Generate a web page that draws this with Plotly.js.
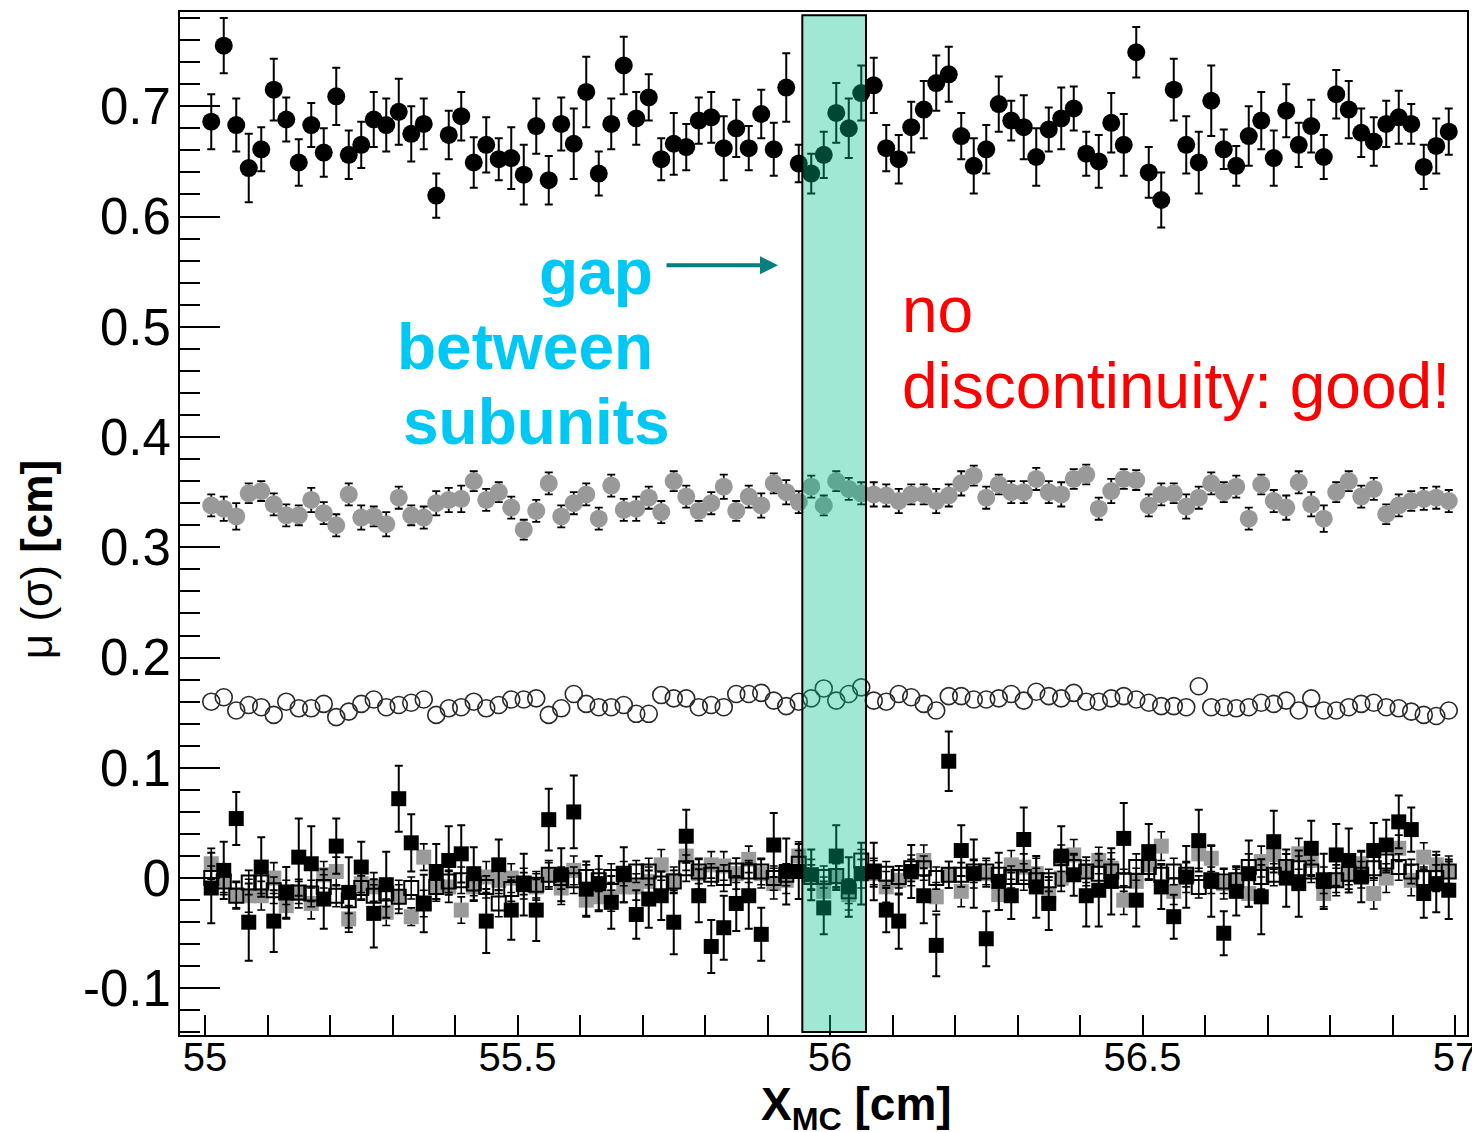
<!DOCTYPE html>
<html>
<head>
<meta charset="utf-8">
<script src="https://cdn.plot.ly/plotly-3.0.1.min.js"></script>
<style>
html,body{margin:0;padding:0;background:#fff;}
#chart{width:1472px;height:1132px;}
</style>
</head>
<body>
<div id="chart"></div>
<script>
// bin centres, X_MC [cm]
const xMC = [
55.01,55.03,55.05,55.07,55.09,55.11,55.13,55.15,55.17,55.19,
55.21,55.23,55.25,55.27,55.29,55.31,55.33,55.35,55.37,55.39,
55.41,55.43,55.45,55.47,55.49,55.51,55.53,55.55,55.57,55.59,
55.61,55.63,55.65,55.67,55.69,55.71,55.73,55.75,55.77,55.79,
55.81,55.83,55.85,55.87,55.89,55.91,55.93,55.95,55.97,55.99,
56.01,56.03,56.05,56.07,56.09,56.11,56.13,56.15,56.17,56.19,
56.21,56.23,56.25,56.27,56.29,56.31,56.33,56.35,56.37,56.39,
56.41,56.43,56.45,56.47,56.49,56.51,56.53,56.55,56.57,56.59,
56.61,56.63,56.65,56.67,56.69,56.71,56.73,56.75,56.77,56.79,
56.81,56.83,56.85,56.87,56.89,56.91,56.93,56.95,56.97,56.99];

// black filled circles
const blackCircles = [
0.686,0.755,0.683,0.644,0.661,0.715,0.688,0.649,0.683,0.658,
0.709,0.656,0.665,0.688,0.683,0.695,0.675,0.684,0.619,0.674,
0.691,0.649,0.665,0.652,0.653,0.638,0.682,0.633,0.684,0.666,
0.713,0.639,0.684,0.737,0.689,0.708,0.652,0.666,0.663,0.687,
0.690,0.662,0.680,0.662,0.693,0.661,0.717,0.648,0.639,0.656,
0.694,0.680,0.712,0.719,0.662,0.652,0.681,0.697,0.721,0.729,
0.673,0.646,0.661,0.702,0.687,0.681,0.654,0.679,0.689,0.698,
0.657,0.650,0.685,0.665,0.749,0.640,0.615,0.715,0.665,0.649,
0.705,0.661,0.646,0.673,0.687,0.653,0.696,0.665,0.682,0.654,
0.711,0.697,0.676,0.668,0.684,0.690,0.684,0.645,0.664,0.677];
const blackCirclesErr = [
0.025,0.025,0.024,0.031,0.020,0.028,0.020,0.021,0.020,0.022,
0.026,0.022,0.021,0.025,0.024,0.030,0.025,0.023,0.020,0.022,
0.022,0.023,0.025,0.019,0.028,0.027,0.025,0.022,0.024,0.032,
0.032,0.020,0.023,0.026,0.024,0.021,0.019,0.028,0.021,0.021,
0.023,0.029,0.026,0.020,0.022,0.024,0.031,0.017,0.018,0.021,
0.027,0.027,0.025,0.025,0.021,0.022,0.023,0.026,0.025,0.025,
0.021,0.025,0.022,0.025,0.018,0.029,0.026,0.020,0.028,0.020,
0.020,0.024,0.027,0.028,0.023,0.023,0.025,0.028,0.026,0.028,
0.032,0.018,0.018,0.027,0.026,0.025,0.024,0.020,0.024,0.020,
0.022,0.026,0.022,0.022,0.021,0.024,0.018,0.020,0.025,0.021];

// grey filled circles
const grayCircles = [
0.338,0.335,0.328,0.349,0.351,0.339,0.329,0.329,0.343,0.331,
0.320,0.348,0.327,0.328,0.321,0.345,0.329,0.327,0.340,0.343,
0.344,0.360,0.343,0.350,0.336,0.316,0.333,0.358,0.328,0.340,
0.348,0.326,0.356,0.334,0.335,0.345,0.332,0.360,0.346,0.333,
0.340,0.355,0.333,0.346,0.338,0.358,0.350,0.341,0.355,0.338,
0.360,0.353,0.349,0.348,0.347,0.342,0.348,0.348,0.342,0.347,
0.358,0.365,0.345,0.357,0.350,0.350,0.362,0.350,0.348,0.362,
0.366,0.335,0.351,0.362,0.361,0.338,0.348,0.349,0.337,0.345,
0.358,0.350,0.355,0.326,0.357,0.342,0.336,0.359,0.339,0.326,
0.350,0.360,0.346,0.353,0.330,0.338,0.342,0.344,0.345,0.342];
const grayCirclesErr = [
0.010,0.011,0.012,0.009,0.009,0.010,0.010,0.009,0.011,0.010,
0.010,0.010,0.011,0.009,0.011,0.010,0.009,0.010,0.011,0.011,
0.012,0.009,0.010,0.009,0.010,0.009,0.010,0.010,0.010,0.010,
0.010,0.010,0.010,0.010,0.011,0.010,0.010,0.009,0.010,0.009,
0.010,0.011,0.009,0.010,0.011,0.009,0.011,0.010,0.010,0.009,
0.009,0.010,0.010,0.011,0.010,0.011,0.009,0.009,0.011,0.010,
0.011,0.009,0.010,0.009,0.010,0.010,0.010,0.010,0.011,0.009,
0.009,0.010,0.011,0.009,0.009,0.010,0.010,0.009,0.011,0.010,
0.010,0.009,0.010,0.010,0.009,0.010,0.011,0.010,0.011,0.012,
0.009,0.009,0.010,0.010,0.009,0.010,0.009,0.010,0.010,0.010];

// open circles
const openCircles = [
0.160,0.164,0.152,0.157,0.155,0.148,0.160,0.154,0.154,0.158,
0.146,0.151,0.158,0.162,0.155,0.157,0.159,0.162,0.148,0.154,
0.155,0.160,0.154,0.157,0.162,0.162,0.163,0.148,0.154,0.167,
0.158,0.155,0.155,0.157,0.149,0.149,0.166,0.163,0.163,0.155,
0.157,0.155,0.167,0.167,0.168,0.161,0.156,0.160,0.163,0.172,
0.161,0.167,0.173,0.161,0.160,0.167,0.164,0.158,0.152,0.165,
0.165,0.162,0.162,0.163,0.167,0.161,0.169,0.165,0.163,0.168,
0.160,0.160,0.163,0.165,0.162,0.159,0.156,0.156,0.155,0.174,
0.155,0.155,0.154,0.155,0.159,0.158,0.161,0.152,0.163,0.152,
0.152,0.155,0.158,0.159,0.155,0.154,0.151,0.148,0.147,0.152];

// black filled squares
const blackSquares = [
-0.009,0.007,0.054,-0.040,0.010,-0.039,-0.013,0.019,0.013,-0.019,
0.029,-0.013,0.010,-0.032,-0.006,0.072,0.032,-0.023,0.006,0.016,
0.022,0.004,-0.039,0.012,-0.029,-0.006,-0.029,0.053,0.003,0.060,
-0.010,-0.005,-0.022,0.003,-0.033,-0.019,-0.016,-0.040,0.038,-0.016,
-0.062,-0.045,-0.023,-0.016,-0.051,0.030,0.006,0.006,0.003,-0.027,
0.020,-0.008,0.004,0.006,-0.029,-0.039,0.006,-0.016,-0.061,0.106,
0.025,0.004,-0.055,-0.003,-0.016,0.035,-0.008,-0.023,0.020,0.003,
-0.016,-0.011,-0.003,0.036,-0.020,0.024,-0.008,-0.035,0.001,0.034,
-0.003,-0.050,-0.012,0.004,-0.017,0.033,0.000,-0.005,0.027,-0.003,
0.021,0.016,0.001,0.025,0.030,0.051,0.044,-0.014,-0.005,-0.011];
const blackSquaresErr = [
0.032,0.026,0.024,0.035,0.027,0.028,0.023,0.035,0.034,0.027,
0.025,0.032,0.023,0.031,0.030,0.030,0.026,0.026,0.025,0.031,
0.026,0.024,0.029,0.023,0.027,0.028,0.028,0.028,0.024,0.033,
0.025,0.025,0.024,0.025,0.022,0.026,0.022,0.029,0.024,0.024,
0.024,0.029,0.025,0.030,0.024,0.029,0.030,0.025,0.023,0.024,
0.028,0.027,0.028,0.026,0.020,0.025,0.024,0.025,0.028,0.027,
0.023,0.031,0.025,0.026,0.021,0.029,0.028,0.024,0.027,0.019,
0.028,0.033,0.030,0.032,0.024,0.025,0.020,0.020,0.028,0.028,
0.032,0.020,0.022,0.030,0.034,0.028,0.026,0.030,0.025,0.025,
0.028,0.029,0.023,0.025,0.023,0.024,0.020,0.022,0.026,0.026];

// grey filled squares
const graySquares = [
0.013,-0.002,-0.015,-0.016,-0.016,0.000,-0.025,-0.014,-0.023,0.003,
0.006,-0.037,-0.005,-0.008,-0.031,-0.017,-0.035,0.019,-0.008,-0.008,
-0.029,-0.008,0.001,-0.002,0.000,-0.005,-0.008,0.003,-0.009,0.007,
-0.020,-0.017,-0.017,-0.008,-0.008,-0.003,0.012,-0.002,0.020,0.004,
0.012,0.011,0.004,0.017,0.004,-0.005,-0.002,0.020,0.003,-0.012,
0.001,-0.015,0.004,0.004,-0.008,-0.002,0.005,0.016,-0.017,0.003,
-0.012,0.004,0.004,-0.015,0.012,0.010,0.004,-0.015,0.000,0.021,
0.006,0.016,0.009,-0.020,-0.003,0.012,0.029,-0.012,0.001,0.022,
0.018,-0.005,-0.002,-0.014,0.015,0.021,0.010,0.022,0.016,-0.014,
-0.002,0.003,0.013,-0.014,0.000,0.027,-0.002,0.019,0.012,0.006];
const graySquaresErr = [
0.014,0.013,0.012,0.015,0.013,0.014,0.012,0.013,0.014,0.012,
0.013,0.012,0.014,0.013,0.012,0.015,0.008,0.012,0.013,0.014,
0.012,0.013,0.014,0.012,0.013,0.014,0.012,0.013,0.015,0.013,
0.014,0.012,0.013,0.014,0.012,0.013,0.014,0.012,0.013,0.014,
0.012,0.013,0.014,0.012,0.013,0.014,0.012,0.013,0.014,0.013,
0.012,0.014,0.013,0.012,0.014,0.013,0.012,0.014,0.013,0.012,
0.014,0.013,0.012,0.014,0.013,0.012,0.014,0.013,0.012,0.014,
0.013,0.012,0.014,0.013,0.012,0.014,0.013,0.012,0.014,0.013,
0.012,0.014,0.013,0.012,0.014,0.013,0.012,0.014,0.013,0.012,
0.014,0.013,0.012,0.014,0.013,0.012,0.014,0.013,0.012,0.014];

// open squares
const openSquares = [
0.000,-0.003,-0.016,-0.004,-0.004,-0.011,-0.013,-0.013,-0.014,-0.008,
-0.016,-0.020,-0.009,-0.016,-0.014,-0.017,-0.009,-0.023,-0.008,-0.003,
-0.002,-0.005,-0.008,-0.023,-0.010,-0.005,-0.006,0.003,0.000,-0.002,
0.001,-0.002,0.001,0.004,0.006,0.006,-0.005,-0.003,0.009,0.006,
0.003,0.000,0.007,0.006,0.006,0.000,0.003,0.013,0.001,0.001,
0.002,-0.012,0.016,0.006,0.004,0.001,0.009,0.009,0.000,0.003,
0.003,0.006,0.006,0.003,0.001,0.001,-0.002,-0.002,0.018,0.010,
0.006,0.004,0.006,-0.002,0.010,0.010,0.003,0.006,0.003,-0.008,
-0.002,-0.003,-0.002,0.010,0.001,0.003,0.010,0.009,0.006,-0.002,
-0.002,0.004,0.003,0.009,0.015,0.010,0.006,0.000,0.000,0.006];
const openSquaresErr = [
0.011,0.010,0.012,0.011,0.010,0.012,0.011,0.010,0.012,0.011,
0.010,0.012,0.011,0.010,0.012,0.011,0.010,0.012,0.011,0.010,
0.012,0.011,0.010,0.012,0.011,0.010,0.012,0.011,0.010,0.012,
0.011,0.010,0.012,0.011,0.010,0.012,0.011,0.010,0.012,0.011,
0.010,0.012,0.011,0.010,0.012,0.011,0.010,0.012,0.011,0.010,
0.012,0.011,0.010,0.012,0.011,0.010,0.012,0.011,0.010,0.012,
0.011,0.010,0.012,0.011,0.010,0.012,0.011,0.010,0.012,0.011,
0.010,0.012,0.011,0.010,0.012,0.011,0.010,0.012,0.011,0.010,
0.012,0.011,0.010,0.012,0.011,0.010,0.012,0.011,0.010,0.012,
0.011,0.010,0.012,0.011,0.010,0.012,0.011,0.010,0.012,0.011];

// tick labels
const yTickValues = [-0.1,0,0.1,0.2,0.3,0.4,0.5,0.6,0.7];
const yTickLabels = ["-0.1","0","0.1","0.2","0.3","0.4","0.5","0.6","0.7"];
const xTickValues = [55,55.5,56,56.5,57];
const xTickLabels = ["55","55.5","56","56.5","57"];

// text
const gapLines = ["gap","between","subunits"];
const noteLines = ["no","discontinuity: good!"];
const yTitle = "μ (σ) <b>[cm]</b>";
const xTitle = "<b>X<sub>MC</sub> [cm]</b>";

const FONT = "Liberation Sans, Arial, Helvetica, sans-serif";

function errs(arr, thick){
  return {type:'data', array:arr, visible:true, color:'#000', thickness:thick, width:4};
}

const traces = [
  {x:xMC, y:graySquares, type:'scatter', mode:'markers', name:'gs',
   marker:{symbol:'square', size:15, color:'#9a9a9a'}, error_y:errs(graySquaresErr,1.6)},
  {x:xMC, y:openSquares, type:'scatter', mode:'markers', name:'os',
   marker:{symbol:'square-open', size:14, color:'#000', line:{width:2,color:'#000'}}, error_y:errs(openSquaresErr,1.6)},
  {x:xMC, y:blackSquares, type:'scatter', mode:'markers', name:'bs',
   marker:{symbol:'square', size:15, color:'#000'}, error_y:errs(blackSquaresErr,2)},
  {x:xMC, y:openCircles, type:'scatter', mode:'markers', name:'oc',
   marker:{symbol:'circle-open', size:17, color:'#2a2a2a', line:{width:1.6,color:'#2a2a2a'}}},
  {x:xMC, y:grayCircles, type:'scatter', mode:'markers', name:'gc',
   marker:{symbol:'circle', size:18, color:'#999999'}, error_y:errs(grayCirclesErr,1.8)},
  {x:xMC, y:blackCircles, type:'scatter', mode:'markers', name:'bc',
   marker:{symbol:'circle', size:18, color:'#000'}, error_y:errs(blackCirclesErr,2)}
];

const cyanFont = {family:FONT, size:64, color:'#00c8f5'};
const redFont = {family:FONT, size:64, color:'#ff0000'};

const layout = {
  width:1472, height:1132,
  margin:{l:180, r:5, t:12, b:97, pad:0},
  paper_bgcolor:'#fff', plot_bgcolor:'#fff',
  showlegend:false,
  font:{family:FONT, color:'#000'},
  xaxis:{
    range:[54.96, 57.0192], showgrid:false, zeroline:false,
    showline:true, linecolor:'#000', linewidth:2, mirror:true,
    ticks:'inside', ticklen:20, tickwidth:2, tickcolor:'#000',
    tickmode:'array', tickvals:xTickValues, ticktext:xTickLabels,
    tickfont:{family:FONT, size:40, color:'#000'},
    ticklabelstandoff:-14, ticklabeloverflow:'allow',
    minor:{tickmode:'linear', tick0:55, dtick:0.1, ticks:'inside', ticklen:20, tickwidth:2, tickcolor:'#000', showgrid:false}
  },
  yaxis:{
    range:[-0.1423, 0.7855], showgrid:false, zeroline:false,
    showline:true, linecolor:'#000', linewidth:2, mirror:true,
    ticks:'inside', ticklen:40, tickwidth:2, tickcolor:'#000',
    tickmode:'array', tickvals:yTickValues, ticktext:yTickLabels,
    tickfont:{family:FONT, size:51, color:'#000'},
    ticklabelstandoff:-3, ticklabeloverflow:'allow',
    minor:{tickmode:'linear', tick0:0, dtick:0.02, ticks:'inside', ticklen:20, tickwidth:2, tickcolor:'#000', showgrid:false}
  },
  shapes:[
    {type:'rect', xref:'x', yref:'y', x0:55.9557, x1:56.0576, y0:-0.1396, y1:0.7825,
     fillcolor:'rgba(0,193,139,0.37)', line:{color:'#000', width:2}, layer:'above'}
  ],
  annotations:[
    {x:55.6256, y:0.550, xref:'x', yref:'y', text:'<b>'+gapLines[0]+'</b>', showarrow:false, font:cyanFont, xanchor:'center', yanchor:'middle'},
    {x:55.512, y:0.482, xref:'x', yref:'y', text:'<b>'+gapLines[1]+'</b>', showarrow:false, font:cyanFont, xanchor:'center', yanchor:'middle'},
    {x:55.530, y:0.414, xref:'x', yref:'y', text:'<b>'+gapLines[2]+'</b>', showarrow:false, font:cyanFont, xanchor:'center', yanchor:'middle'},
    {x:55.9168, y:0.5558, xref:'x', yref:'y', ax:55.736, ay:0.5558, axref:'x', ayref:'y',
     text:'', showarrow:true, arrowhead:2, arrowsize:0.9, arrowwidth:4, arrowcolor:'#008080'},
    {x:56.112, y:0.515, xref:'x', yref:'y', text:noteLines[0], showarrow:false, font:redFont, xanchor:'left', yanchor:'middle'},
    {x:56.112, y:0.446, xref:'x', yref:'y', text:noteLines[1], showarrow:false, font:redFont, xanchor:'left', yanchor:'middle'},
    {x:-0.1118, y:0.4643, xref:'paper', yref:'paper', text:yTitle, textangle:-90, showarrow:false,
     font:{family:FONT, size:44, color:'#000'}, xanchor:'center', yanchor:'middle'},
    {x:0.526, y:-0.071, xref:'paper', yref:'paper', text:xTitle, showarrow:false,
     font:{family:FONT, size:46, color:'#000'}, xanchor:'center', yanchor:'middle'}
  ]
};

Plotly.newPlot('chart', traces, layout, {staticPlot:true, displayModeBar:false});
</script>
</body>
</html>
